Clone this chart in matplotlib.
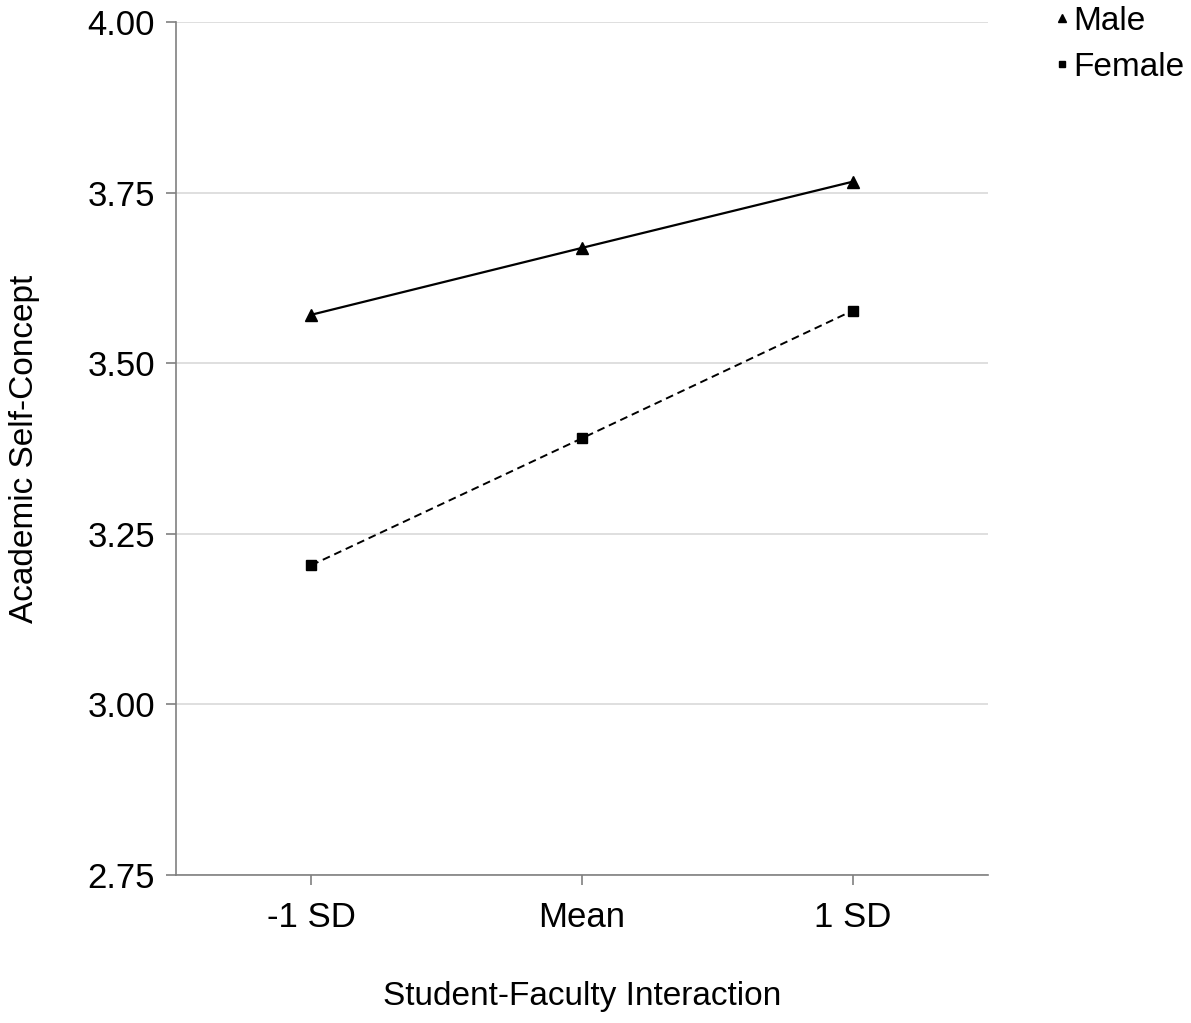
import matplotlib.pyplot as plt
import numpy as np

plt.rcParams['font.family'] = ['Liberation Sans', 'DejaVu Sans']

# valeurs
niveaux = ['-1 SD', 'Mean', '1 SD']
male = [3.571, 3.669, 3.766]
female = [3.204, 3.390, 3.577]
yticks = [2.75, 3.00, 3.25, 3.50, 3.75, 4.00]

fig = plt.figure(figsize=(11.91, 10.23), dpi=100)
ax = fig.add_axes([0.1478, 0.1447, 0.6818, 0.8338])

x = np.arange(len(niveaux))
ax.plot(x, male, color='black', lw=1.6, marker='^', ms=8, label='Male')
ax.plot(x, female, color='black', lw=1.4, ls=(0, (4, 2.5)), marker='s', ms=6.5, label='Female')

ax.set_xlim(-0.5, 2.5)
ax.set_ylim(2.75, 4.00)
ax.set_yticks(yticks)
ax.set_yticklabels([f'{v:.2f}' for v in yticks])
ax.set_xticks(x)
ax.set_xticklabels(niveaux)
ax.grid(axis='y', color='#d9d9d9', lw=1.2)
ax.set_axisbelow(True)

for s in ['top', 'right']:
    ax.spines[s].set_visible(False)
for s in ['left', 'bottom']:
    ax.spines[s].set_color('#808080')
    ax.spines[s].set_linewidth(1.2)
ax.tick_params(axis='both', colors='#808080', labelcolor='black', labelsize=25, length=7, width=1.2)
ax.tick_params(axis='y', pad=8)
ax.tick_params(axis='x', pad=12)

ax.set_xlabel('Student-Faculty Interaction', fontsize=24, va='center')
ax.xaxis.set_label_coords(0.5, -0.143)
ax.set_ylabel('Academic Self-Concept', fontsize=24, va='center')
ax.yaxis.set_label_coords(-0.187, 0.5)

h1 = plt.Line2D([], [], color='black', marker='^', ls='none', ms=6)
h2 = plt.Line2D([], [], color='black', marker='s', ls='none', ms=5)
fig.legend(handles=[h1, h2], labels=['Male', 'Female'], loc='upper left',
           bbox_to_anchor=(0.886, 0.994), frameon=False, fontsize=24,
           borderpad=0, borderaxespad=0,
           handlelength=0.4, handletextpad=0.15, labelspacing=0.45)

plt.savefig('out.png', dpi=100)
